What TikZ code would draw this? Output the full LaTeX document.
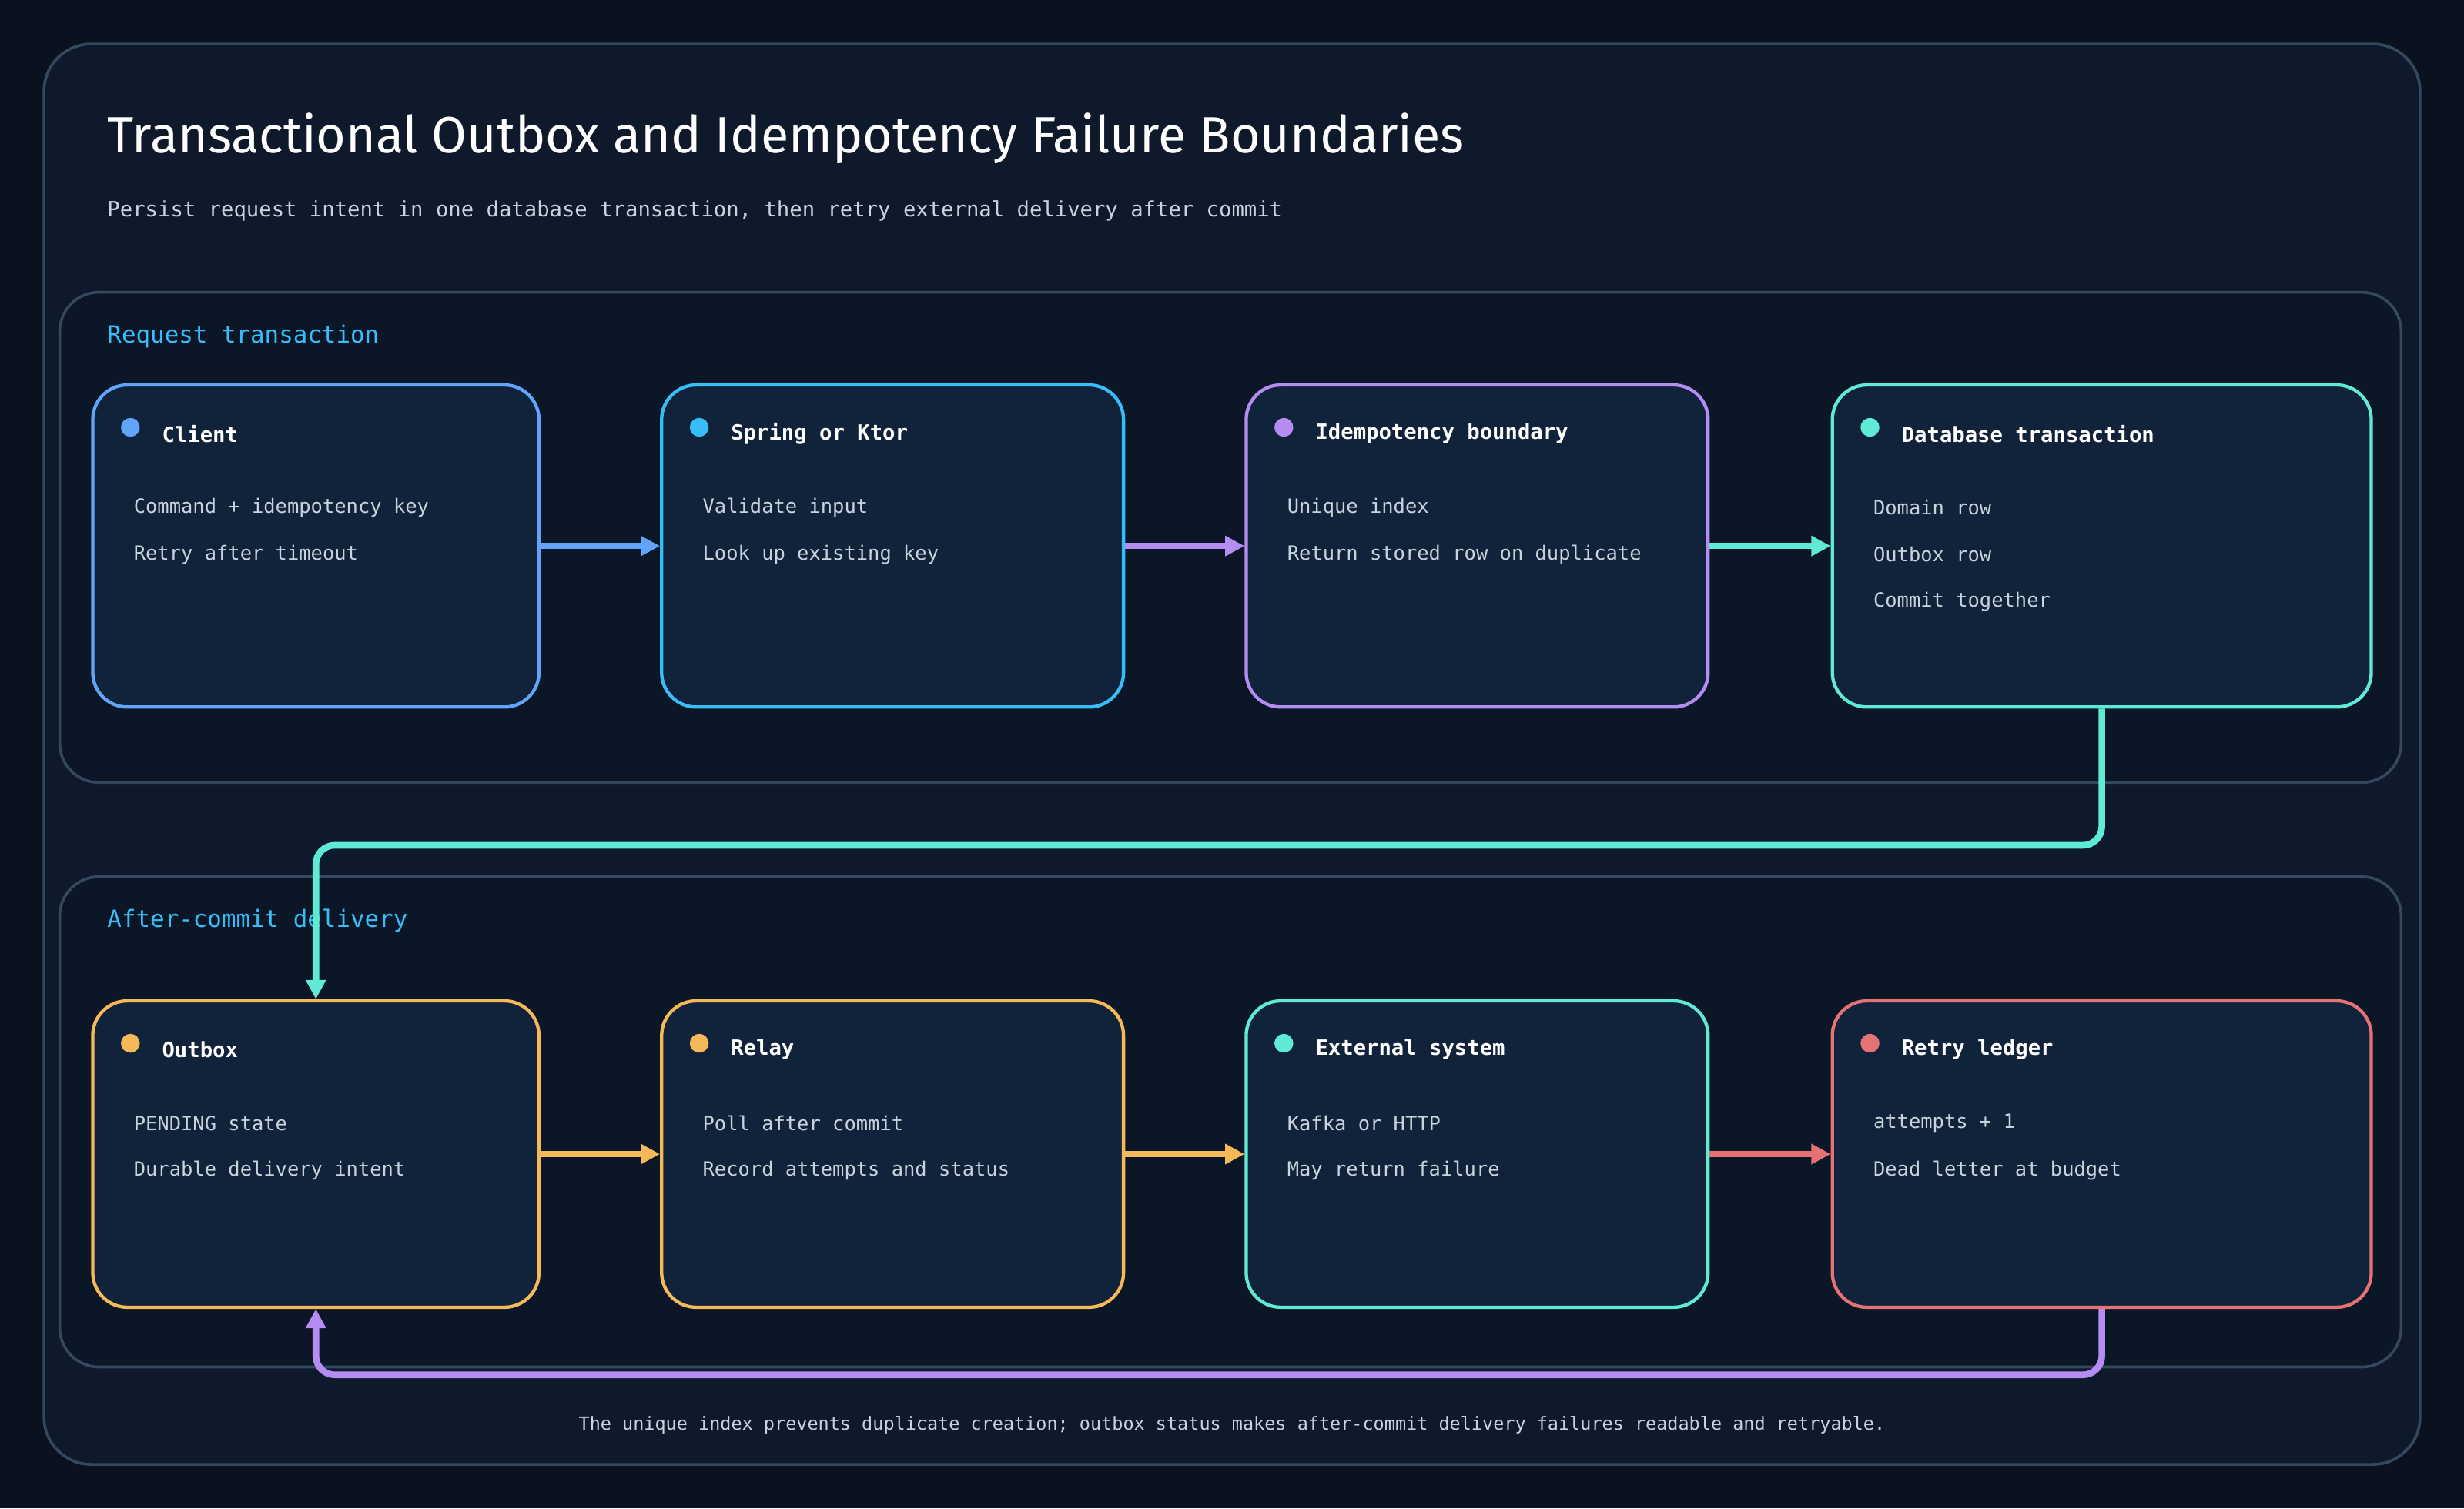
\documentclass[tikz,border=0pt]{standalone}
\usepackage{fontspec}
\setmainfont{Fira Sans}
\setmonofont{DejaVu Sans Mono}
\usetikzlibrary{positioning,arrows.meta,calc}
\definecolor{bgdark}{HTML}{0A1220}
\definecolor{cardbg}{HTML}{0E1A2B}
\definecolor{lanebg}{HTML}{0B1627}
\definecolor{boxbg}{HTML}{11233A}
\definecolor{edge}{HTML}{34495E}
\definecolor{txt}{HTML}{C9D3DE}
\definecolor{cblue}{HTML}{60A5FA}
\definecolor{ccyan}{HTML}{38BDF8}
\definecolor{cpurple}{HTML}{B48CF2}
\definecolor{cteal}{HTML}{5EEAD4}
\definecolor{corange}{HTML}{F6B95A}
\definecolor{cred}{HTML}{E57373}
\tikzset{
  stepnode/.style={draw=#1, line width=1.2pt, fill=boxbg, rounded corners=0.44cm},
  lanebox/.style={draw=edge, line width=1pt, fill=lanebg, rounded corners=0.5cm},
  lanelabel/.style={anchor=west, inner sep=0pt, text=ccyan, font=\ttfamily\fontsize{8.6}{10}\selectfont},
  steptitle/.style={anchor=west, text=white, font=\ttfamily\bfseries\fontsize{7.6}{9}\selectfont},
  stepline/.style={anchor=west, text=txt, font=\ttfamily\fontsize{7.1}{9}\selectfont},
  flow/.style={draw=#1, line width=2.4pt, -{Triangle[length=7pt,width=7pt]}, rounded corners=0.24cm},
}
% name, center, width, height, colour, title, lines
\newcommand\stepbox[7]{%
  \node[stepnode=#5, minimum width=#3cm, minimum height=#4cm] (#1) at #2 {};
  \fill[#5] ([xshift=0.5cm,yshift=-0.56cm]#1.north west) circle (0.12cm);
  \node[steptitle] at ([xshift=0.78cm,yshift=-0.64cm]#1.north west) {#6};
  \foreach \l [count=\i] in {#7}
    \node[stepline] at ([xshift=0.42cm,yshift=-0.98cm-0.6cm*\i]#1.north west) {\l};
}
\begin{document}
\begin{tikzpicture}[x=0.02cm,y=-0.02cm]
\fill[bgdark] (0,0) rectangle (1568,960);
\useasboundingbox (0,0) rectangle (1568,960);
\draw[edge, line width=1pt, fill=cardbg, rounded corners=0.6cm] (28,28) rectangle (1540,932);
\node[anchor=west, inner sep=0pt, text=white, font=\fontsize{18.5}{22}\selectfont] (title) at (68,88) {Transactional Outbox and Idempotency Failure Boundaries};
\node[anchor=west, inner sep=0pt, text=txt, font=\ttfamily\fontsize{7.6}{10}\selectfont] (subtitle) at (68,134) {Persist request intent in one database transaction, then retry external delivery after commit};

% lanes
\draw[lanebox] (38,186) rectangle (1528,498);
\node[lanelabel] (lane1) at (68,214) {Request transaction};
\draw[lanebox] (38,558) rectangle (1528,870);
\node[lanelabel] (lane2) at (68,586) {After-commit delivery};

% request row
\stepbox{client}{(201,347.5)}{5.68}{4.1}{cblue}{Client}{Command + idempotency key,Retry after timeout}
\stepbox{spring}{(568,347.5)}{5.88}{4.1}{ccyan}{Spring or Ktor}{Validate input,Look up existing key}
\stepbox{idem}{(940,347.5)}{5.88}{4.1}{cpurple}{Idempotency boundary}{Unique index,Return stored row on duplicate}
\stepbox{db}{(1337.5,347.5)}{6.86}{4.1}{cteal}{Database transaction}{Domain row,Outbox row,Commit together}

% delivery row
\stepbox{outbox}{(201,734.5)}{5.68}{3.9}{corange}{Outbox}{PENDING state,Durable delivery intent}
\stepbox{relay}{(568,734.5)}{5.88}{3.9}{corange}{Relay}{Poll after commit,Record attempts and status}
\stepbox{ext}{(940,734.5)}{5.88}{3.9}{cteal}{External system}{Kafka or HTTP,May return failure}
\stepbox{retry}{(1337.5,734.5)}{6.86}{3.9}{cred}{Retry ledger}{attempts + 1,Dead letter at budget}

\coordinate (turnA) at (201,538);
\coordinate (turnB) at (201,875);

\draw[flow=cblue] (client.east) -- (spring.west);
\draw[flow=cpurple] (spring.east) -- (idem.west);
\draw[flow=cteal] (idem.east) -- (db.west);
\draw[flow=corange] (outbox.east) -- (relay.west);
\draw[flow=corange] (relay.east) -- (ext.west);
\draw[flow=cred] (ext.east) -- (retry.west);
\draw[flow=cteal] (db.south) |- (turnA) -- (outbox.north);
\draw[flow=cpurple] (retry.south) |- (turnB) -- (outbox.south);

\node[text=txt, font=\ttfamily\fontsize{6.55}{9}\selectfont] (footer) at (784,907) {The unique index prevents duplicate creation; outbox status makes after-commit delivery failures readable and retryable.};
\end{tikzpicture}
\end{document}
